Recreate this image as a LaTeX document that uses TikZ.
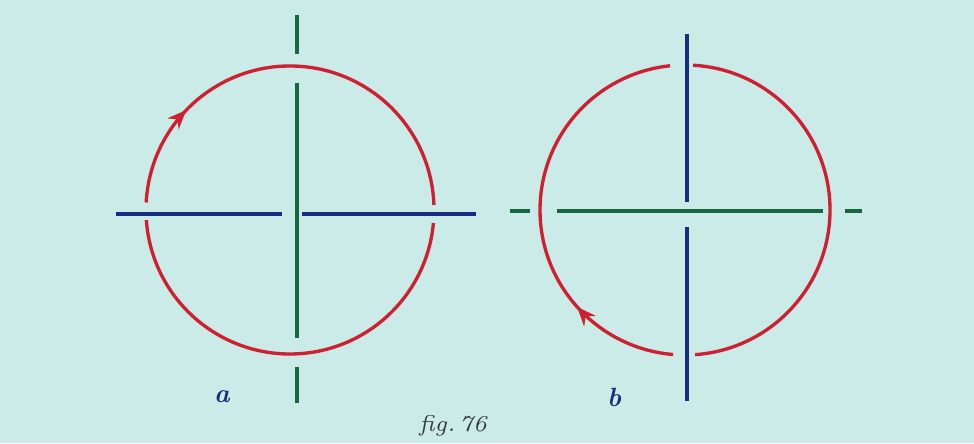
\documentclass[tikz,border=0pt]{standalone}
\usetikzlibrary{arrows.meta,decorations.markings}
\definecolor{paper}{RGB}{202,235,232}
\definecolor{ringred}{RGB}{206,32,48}
\definecolor{lineblue}{RGB}{24,44,128}
\definecolor{linegreen}{RGB}{22,102,62}
\definecolor{printgrey}{RGB}{55,58,60}
\tikzset{
    ring/.style={ringred, line width=0.95pt},
    blueline/.style={lineblue, line width=1pt},
    greenline/.style={linegreen, line width=1pt},
    arrowmark/.style={
        postaction=decorate,
        decoration={markings,
        mark=at position #1 with {\arrow{Stealth[length=5.4pt,width=4.4pt]}}
        }
    },
    letter/.style={text=lineblue, font=\fontsize{7.5}{8}\selectfont\bfseries\itshape, inner sep=0pt},
    caption/.style={text=printgrey, font=\fontsize{6.5}{8}\selectfont\itshape, inner sep=0pt}
}
\begin{document}
\begin{tikzpicture}[x=0.01cm, y=0.01cm]
    \useasboundingbox (0,0) rectangle (974,443);
    \fill[paper] (0,0) rectangle (974,443);
    \coordinate (ca) at (290,233);
    \coordinate (cb) at (685,233);
    % figure a
    \draw[ring, arrowmark=0.234] ([shift={(177:144)}]ca) arc[start angle=177, end angle=2, radius=144];
    \draw[ring] ([shift={(184:144)}]ca) arc[start angle=184, end angle=354.8, radius=144];
    \foreach \ya/\yb in {428/389, 360/105, 76/40}
        \draw[greenline] (297,\ya) -- (297,\yb);
    \foreach \xa/\xb in {116/282, 302/476}
        \draw[blueline] (\xa,229) -- (\xb,229);
    % figure b
    \draw[ring] ([shift={(86.8:145)}]cb) arc[start angle=86.8, end angle=-86, radius=145];
    \draw[ring, arrowmark=0.256] ([shift={(265.3:145)}]cb) arc[start angle=265.3, end angle=95.9, radius=145];
    \foreach \xa/\xb in {510/530, 557/823, 845/862}
        \draw[greenline] (\xa,232) -- (\xb,232);
    \foreach \ya/\yb in {409/241, 216/42}
        \draw[blueline] (687,\ya) -- (687,\yb);
    % labels
    \node[letter] (la) at (222,46) {a};
    \node[letter] (lb) at (614,46) {b};
    \node[caption] (fig) at (453,17) {fig.\,76};
\end{tikzpicture}
\end{document}
